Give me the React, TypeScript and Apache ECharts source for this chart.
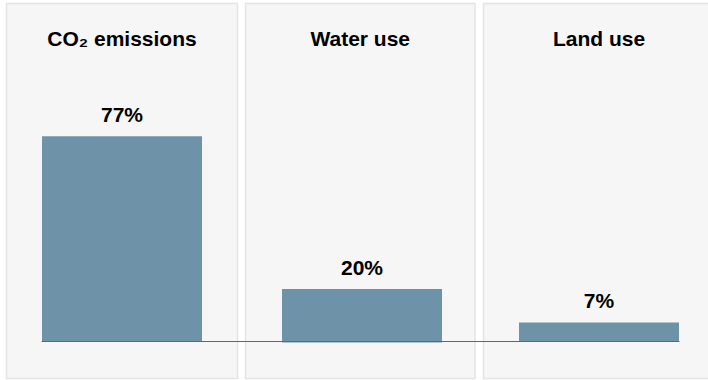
import React, { useEffect, useRef } from "react";
import * as echarts from "echarts";

// Panel headings and the share shown in each panel
const panelTitles = ["CO₂ emissions", "Water use", "Land use"];
const shareValues = [77, 20, 7];
const valueSuffix = "%";

const BAR_COLOR = "#6e93a8";
const FONT = "'Liberation Sans', Arial, Helvetica, sans-serif";

// Panel frames (background cards) and bar plot areas per panel
const panels = [
  { x: 6.5, w: 231 },
  { x: 245.5, w: 229.5 },
  { x: 483.5, w: 240 },
];
const barAreas = [
  { left: 42, width: 160, bottom: 39 },
  { left: 282, width: 160, bottom: 37.5 },
  { left: 519, width: 160, bottom: 39 },
];
const Y_MAX = 100;
const GRID_TOP = 75;

export default function App() {
  const ref = useRef<HTMLDivElement>(null);

  useEffect(() => {
    document.body.style.margin = "0";
    if (!ref.current) return;
    const chart = echarts.init(ref.current, undefined, { renderer: "svg" });

    const grids: any[] = barAreas.map((a) => ({
      left: a.left,
      width: a.width,
      top: GRID_TOP,
      bottom: a.bottom,
      containLabel: false,
    }));
    // shared baseline spanning all three bars
    grids.push({ left: 42, right: 29, top: GRID_TOP, bottom: 39 });

    const xAxes: any[] = barAreas.map((_, i) => ({
      type: "category",
      gridIndex: i,
      data: [panelTitles[i]],
      axisLine: { show: false },
      axisTick: { show: false },
      axisLabel: { show: false },
    }));
    xAxes.push({
      type: "category",
      gridIndex: 3,
      data: [""],
      z: 10,
      axisLine: { show: true, lineStyle: { color: "#666666", width: 1 } },
      axisTick: { show: false },
      axisLabel: { show: false },
    });

    const yAxes: any[] = grids.map((_, i) => ({
      type: "value",
      gridIndex: i,
      min: 0,
      max: Y_MAX,
      show: false,
    }));

    const series: any[] = shareValues.map((v, i) => ({
      type: "bar",
      xAxisIndex: i,
      yAxisIndex: i,
      data: [v],
      barWidth: "100%",
      itemStyle: { color: BAR_COLOR },
      label: {
        show: true,
        position: "top",
        distance: 11,
        formatter: (p: any) => `${p.value}${valueSuffix}`,
        color: "#000000",
        fontFamily: FONT,
        fontWeight: "bold",
        fontSize: 21,
      },
    }));

    const graphic: any[] = [];
    panels.forEach((p, i) => {
      graphic.push({
        type: "rect",
        z: -10,
        shape: { x: p.x, y: 3.5, width: p.w, height: 375 },
        style: { fill: "#f6f6f6", stroke: "#e4e4e4", lineWidth: 1.5 },
        silent: true,
      });
      const cx = i === 2 ? 599 : p.x + p.w / 2;
      graphic.push({
        type: "text",
        z: 10,
        x: cx,
        y: 38,
        style: {
          text: panelTitles[i],
          fill: "#000000",
          font: `bold 21px ${FONT}`,
          align: "center",
          verticalAlign: "middle",
        },
        silent: true,
      });
    });

    chart.setOption({
      animation: false,
      backgroundColor: "#ffffff",
      grid: grids,
      xAxis: xAxes,
      yAxis: yAxes,
      series,
      graphic,
    });

    return () => chart.dispose();
  }, []);

  return <div ref={ref} style={{ width: 708, height: 380 }} />;
}
